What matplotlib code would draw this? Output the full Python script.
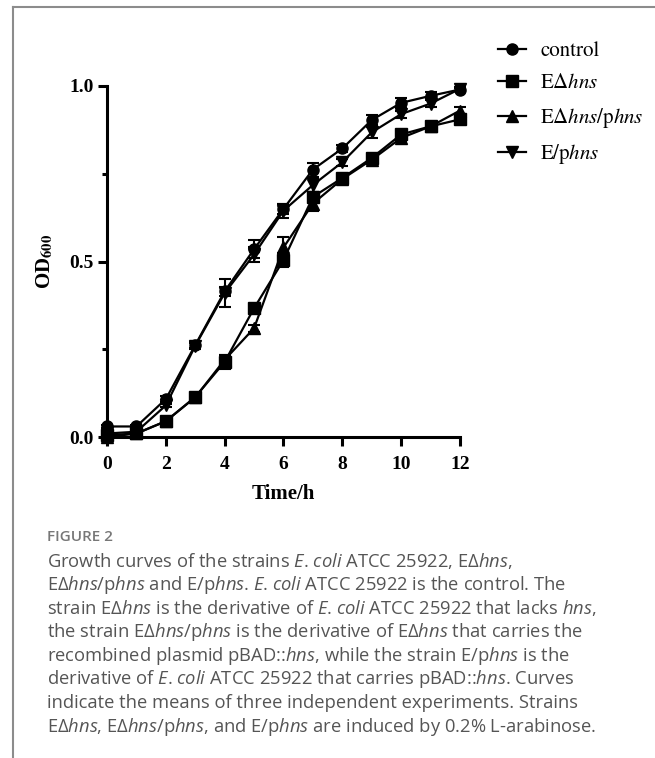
import matplotlib
matplotlib.use('Agg')
import matplotlib.pyplot as plt
import numpy as np
from matplotlib.ticker import MultipleLocator, FormatStrFormatter
from matplotlib.lines import Line2D

# custom mathtext font -> used for the italic bits of the caption
plt.rcParams['mathtext.fontset'] = 'custom'
plt.rcParams['mathtext.rm'] = 'Open Sans'
plt.rcParams['mathtext.it'] = 'Open Sans:italic'
plt.rcParams['mathtext.bf'] = 'Open Sans:bold'

# data
hours = [0, 1, 2, 3, 4, 5, 6, 7, 8, 9, 10, 11, 12]
control = [0.03, 0.03, 0.108, 0.262, 0.415, 0.535, 0.65, 0.762, 0.822, 0.903, 0.952, 0.972, 0.99]
control_sd = [0.005, 0.005, 0.008, 0.008, 0.012, 0.025, 0.015, 0.02, 0.01, 0.015, 0.015, 0.01, 0.005]
dhns = [0.005, 0.01, 0.045, 0.114, 0.214, 0.367, 0.504, 0.684, 0.738, 0.795, 0.862, 0.885, 0.905]
dhns_sd = [0.003, 0.003, 0.005, 0.008, 0.02, 0.01, 0.02, 0.015, 0.01, 0.01, 0.01, 0.01, 0.01]
comp = [0.0, 0.01, 0.045, 0.113, 0.22, 0.31, 0.54, 0.665, 0.735, 0.79, 0.852, 0.885, 0.93]
comp_sd = [0.003, 0.003, 0.005, 0.005, 0.015, 0.01, 0.03, 0.02, 0.01, 0.01, 0.01, 0.01, 0.01]
ephns = [0.01, 0.015, 0.09, 0.26, 0.41, 0.52, 0.645, 0.718, 0.783, 0.868, 0.92, 0.95, 0.992]
ephns_sd = [0.003, 0.003, 0.005, 0.008, 0.04, 0.02, 0.02, 0.02, 0.01, 0.015, 0.01, 0.01, 0.005]

series = [
    (control, control_sd, 'o', 'control'),
    (dhns, dhns_sd, 's', r'E$\mathit{\Delta hns}$'),
    (comp, comp_sd, '^', r'E$\mathit{\Delta hns}$/p$\mathit{hns}$'),
    (ephns, ephns_sd, 'v', r'E/p$\mathit{hns}$'),
]

W, H = 655, 758
fig = plt.figure(figsize=(W / 100, H / 100), dpi=100)
ax = fig.add_axes([107 / W, 1 - 437 / H, 353 / W, 351 / H])

handles = []
for vals, sd, mk, lab in series:
    ax.errorbar(hours, vals, yerr=sd, color='black', lw=1.6, marker=mk, ms=8,
                capsize=4, capthick=1.5, elinewidth=1.5, clip_on=False, zorder=3)
    handles.append(Line2D([], [], color='black', lw=1.6, marker=mk, ms=8, label=lab))

ax.set_xlim(0, 12)
ax.set_ylim(0, 1.0)
ax.xaxis.set_major_locator(MultipleLocator(2))
ax.yaxis.set_major_locator(MultipleLocator(0.5))
ax.yaxis.set_minor_locator(MultipleLocator(0.25))
ax.yaxis.set_major_formatter(FormatStrFormatter('%.1f'))

for s in ['top', 'right']:
    ax.spines[s].set_visible(False)
for s in ['left', 'bottom']:
    ax.spines[s].set_linewidth(2.2)
ax.tick_params(which='major', width=2.2, length=6.5, direction='out')
ax.tick_params(which='minor', width=2.2, length=3.5, direction='out')
ax.tick_params(axis='x', labelsize=14, pad=7)
ax.tick_params(axis='y', labelsize=14, pad=3)
for t in ax.get_xticklabels() + ax.get_yticklabels():
    t.set_fontfamily('Liberation Serif')
    t.set_fontweight('bold')

ax.set_xlabel('Time/h', fontsize=15, fontweight='bold', family='Liberation Serif', labelpad=8)
ax.set_ylabel(r'OD$_{\mathbf{600}}$', fontsize=15, fontweight='bold', family='Liberation Serif',
              math_fontfamily='stix', labelpad=10)

leg = ax.legend(handles=handles, loc='upper left', bbox_to_anchor=(488 / W, 1 - 31 / H),
                bbox_transform=fig.transFigure, frameon=False, borderpad=0,
                handlelength=1.3, handletextpad=0.7, labelspacing=0.6,
                prop={'family': 'STIXGeneral', 'size': 15})
for t in leg.get_texts():
    t.set_math_fontfamily('stix')

# gray frame lines on top and left
fig.add_artist(Line2D([13 / W, 13 / W], [0, 1 - 7 / H], color='#8c8c8c', lw=1.5))
fig.add_artist(Line2D([13 / W, 1], [1 - 7 / H, 1 - 7 / H], color='#8c8c8c', lw=1.5))

# caption (punctuation kept outside $...$, mathtext pads it otherwise)
fig.text(47 / W, 1 - 537 / H, 'FIGURE 2', family='Open Sans', fontsize=11,
         fontweight='semibold', color='#777777', va='center')
caption = [
    r'Growth curves of the strains $\mathit{E}$. $\mathit{coli}$ ATCC 25922, EΔ$\mathit{hns}$,',
    r'EΔ$\mathit{hns}$/p$\mathit{hns}$ and E/p$\mathit{hns}$. $\mathit{E}$. $\mathit{coli}$ ATCC 25922 is the control. The',
    r'strain EΔ$\mathit{hns}$ is the derivative of $\mathit{E}$. $\mathit{coli}$ ATCC 25922 that lacks $\mathit{hns}$,',
    r'the strain EΔ$\mathit{hns}$/p$\mathit{hns}$ is the derivative of EΔ$\mathit{hns}$ that carries the',
    r'recombined plasmid pBAD::$\mathit{hns}$, while the strain E/p$\mathit{hns}$ is the',
    r'derivative of $\mathit{E}$. $\mathit{coli}$ ATCC 25922 that carries pBAD::$\mathit{hns}$. Curves',
    r'indicate the means of three independent experiments. Strains',
    r'EΔ$\mathit{hns}$, EΔ$\mathit{hns}$/p$\mathit{hns}$, and E/p$\mathit{hns}$ are induced by 0.2% L-arabinose.',
]
y0 = 561
for i, line in enumerate(caption):
    fig.text(47 / W, 1 - (y0 + i * 23.7) / H, line, family='Open Sans', fontsize=13.2,
             color='#555555', va='center', math_fontfamily='custom')

fig.savefig('out.png', dpi=100)
